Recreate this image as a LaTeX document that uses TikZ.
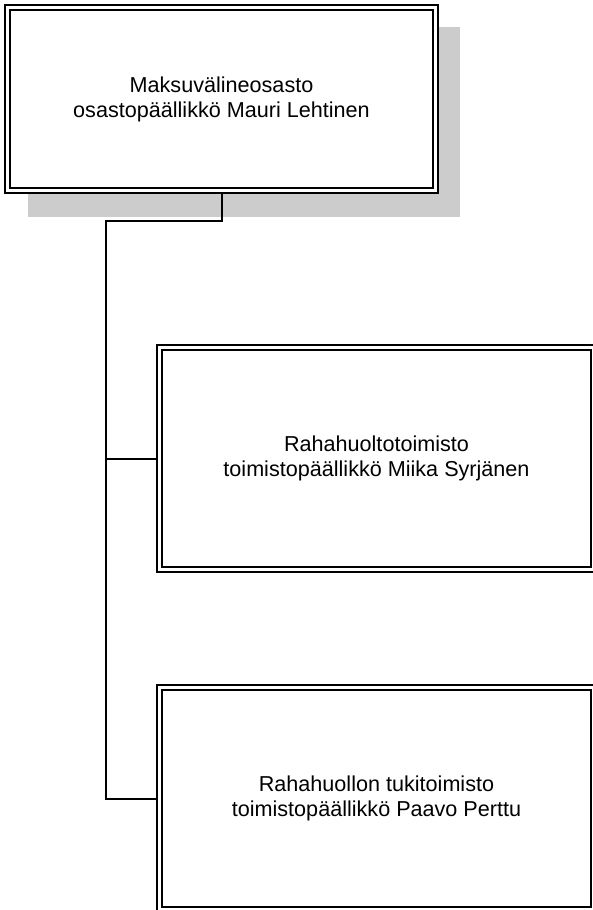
\documentclass[tikz,border=0pt]{standalone}
\usepackage{fontspec}
\setmainfont{Liberation Sans}
\usepackage{xcolor}
\usepackage{tikz}
\definecolor{shadowgray}{RGB}{204,204,204}

\begin{document}
\begin{tikzpicture}[x=1pt, y=-1pt,
    unit/.style={draw, fill=white, double=white, double distance=3pt, line width=2pt,
        outer sep=3.5pt, align=center, font=\fontsize{21.6}{25}\selectfont},
    link/.style={line width=2pt}]
    \useasboundingbox (0,0) rectangle (593,910);
    \fill[shadowgray] (28,27) rectangle (460,217);
    \node[unit, minimum width=428pt, minimum height=183pt] (osasto) at (221.5,99)
        {Maksuvälineosasto\\osastopäällikkö Mauri Lehtinen};
    \node[unit, minimum width=434pt, minimum height=222pt] (huolto) at (376.5,458.5)
        {Rahahuoltotoimisto\\toimistopäällikkö Miika Syrjänen};
    \node[unit, minimum width=434pt, minimum height=222pt] (tuki) at (376.5,798.5)
        {Rahahuollon tukitoimisto\\toimistopäällikkö Paavo Perttu};
    \coordinate (elbow) at (106,221);
    \draw[link] (osasto.south) |- (elbow) |- (tuki.west);
    \draw[link] (elbow |- huolto.west) -- (huolto.west);
\end{tikzpicture}
\end{document}
